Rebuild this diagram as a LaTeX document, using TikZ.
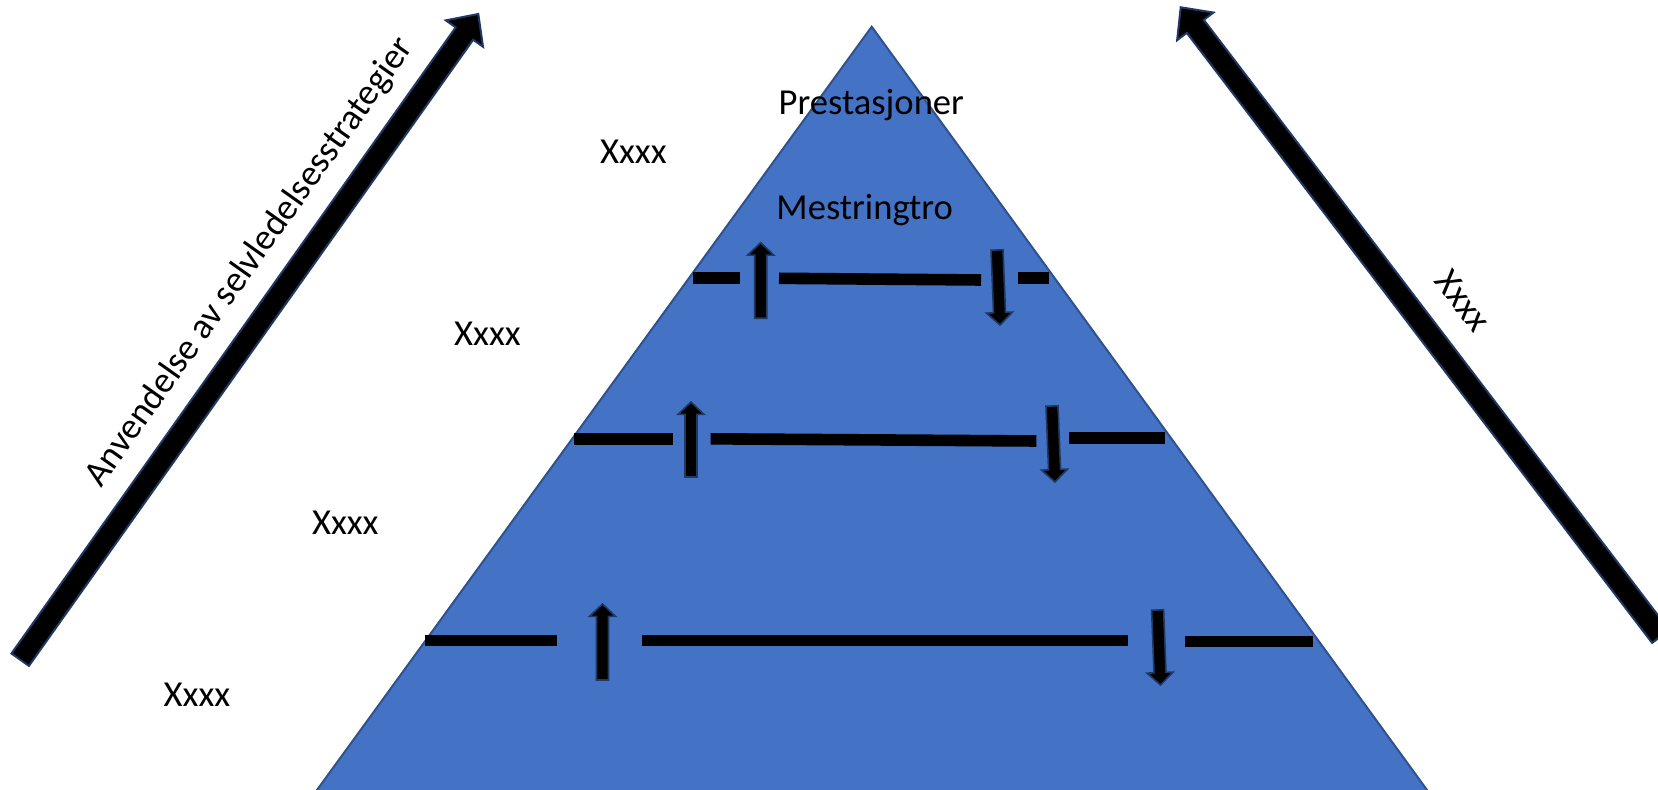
\documentclass[tikz,border=0pt]{standalone}
\usepackage{fontspec}
\setmainfont{Carlito}
\usetikzlibrary{calc}
\definecolor{pyrblue}{HTML}{4472C4}
\definecolor{pyredge}{HTML}{2F528F}
\definecolor{navy}{HTML}{1F3864}

% block arrow: #1 style, #2 tail, #3 tip, #4 half shaft width, #5 half head width, #6 head length
\newcommand\blockarrow[6]{%
  \coordinate (ba-h) at ($(#3)!#6!(#2)$);
  \draw[#1] ($(#2)!#4!90:(#3)$) -- ($(ba-h)!#4!90:(#3)$) -- ($(ba-h)!#5!90:(#3)$)
    -- (#3) -- ($(ba-h)!#5!-90:(#3)$) -- ($(ba-h)!#4!-90:(#3)$)
    -- ($(#2)!#4!-90:(#3)$) -- cycle;
}

\begin{document}
\begin{tikzpicture}[x=0.5pt,y=-0.5pt,
  lbl/.style={font=\fontsize{18.3}{22}\selectfont, inner sep=0pt},
  bigarrow/.style={fill=black, draw=navy, line width=1pt, line join=miter},
  smallarrow/.style={fill=black, draw=navy, line width=0.8pt, line join=miter},
  bar/.style={line width=5.8pt, black}]
\useasboundingbox (0,0) rectangle (1658,790);
\clip (0,0) rectangle (1658,790);

% pyramid
\coordinate (apex) at (871.7,26.7);
\coordinate (bl) at (303.9,808);
\coordinate (br) at (1440.1,808);
\draw[fill=pyrblue, draw=pyredge, line width=1pt, line join=miter] (apex) -- (bl) -- (br) -- cycle;

% long arrows at the sides
\coordinate (la-tail) at (20.2,659.7);
\coordinate (la-tip) at (478.3,14);
\blockarrow{bigarrow}{la-tail}{la-tip}{5.35pt}{11.4pt}{12pt}
\coordinate (ra-tail) at (1660.6,636.4);
\coordinate (ra-tip) at (1180.7,7.3);
\blockarrow{bigarrow}{ra-tail}{ra-tip}{5.35pt}{11.4pt}{12pt}

\node[lbl, rotate=54.64, anchor=base] (lbl-left) at (257.8,267.9) {Anvendelse av selvledelsesstrategier};
\node[lbl, rotate=-52.67] (lbl-right) at (1463,301) {Xxxx};

% level lines
\coordinate (r1a) at (692.6,278);  \coordinate (r1b) at (740,278);
\coordinate (r1c) at (779,278.3);  \coordinate (r1d) at (981,280);
\coordinate (r1e) at (1017.7,278); \coordinate (r1f) at (1049.3,278);
\coordinate (r2a) at (574,439.3);  \coordinate (r2b) at (672.5,439.3);
\coordinate (r2c) at (710.6,438.8); \coordinate (r2d) at (1036.3,441);
\coordinate (r2e) at (1069,438.2); \coordinate (r2f) at (1165,438.2);
\coordinate (r3a) at (425,640.3);  \coordinate (r3b) at (557,640.3);
\coordinate (r3c) at (641.8,640.3); \coordinate (r3d) at (1128.2,640.3);
\coordinate (r3e) at (1185.4,641.4); \coordinate (r3f) at (1313.3,641.4);
\foreach \r in {1,2,3} {
  \draw[bar] (r\r a) -- (r\r b);
  \draw[bar] (r\r c) -- (r\r d);
  \draw[bar] (r\r e) -- (r\r f);
}

% up and down arrows on each level
\coordinate (u1t) at (760.7,318.3); \coordinate (u1p) at (760.7,242.7);
\coordinate (d1t) at (997,250);     \coordinate (d1p) at (1000,325);
\coordinate (u2t) at (691,477);     \coordinate (u2p) at (691,402);
\coordinate (d2t) at (1052,406);    \coordinate (d2p) at (1055,482);
\coordinate (u3t) at (602.5,680);   \coordinate (u3p) at (602.5,604);
\coordinate (d3t) at (1157.6,610);  \coordinate (d3p) at (1160.5,685);
\foreach \k in {u1,d1,u2,d2,u3,d3} {
  \blockarrow{smallarrow}{\k t}{\k p}{3pt}{6.5pt}{6.2pt}
}

% labels
\node[lbl, anchor=base] (prest) at (871.3,115) {Prestasjoner};
\node[lbl, anchor=base] (mestr) at (864.7,220) {Mestringtro};
\node[lbl, anchor=base] (x1) at (633.4,164) {Xxxx};
\node[lbl, anchor=base] (x2) at (487.5,345.8) {Xxxx};
\node[lbl, anchor=base] (x3) at (345.3,534) {Xxxx};
\node[lbl, anchor=base] (x4) at (197,706) {Xxxx};
\end{tikzpicture}
\end{document}
